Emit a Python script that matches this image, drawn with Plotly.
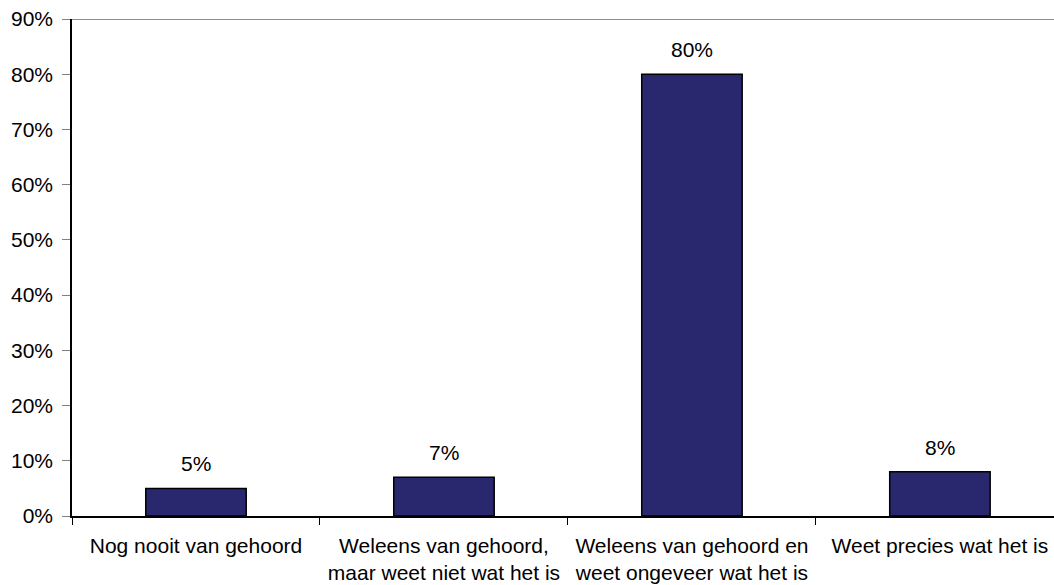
import plotly.graph_objects as go

categories = [
    "Nog nooit van gehoord",
    "Weleens van gehoord,<br>maar weet niet wat het is",
    "Weleens van gehoord en<br>weet ongeveer wat het is",
    "Weet precies wat het is",
]
values = [5, 7, 80, 8]
y_ticks = [0, 10, 20, 30, 40, 50, 60, 70, 80, 90]
y_tick_labels = [f"{v}%" for v in y_ticks]

FONT = "Liberation Sans, Arial, sans-serif"
FS = 21

fig = go.Figure(
    go.Bar(
        x=categories,
        y=values,
        marker=dict(color="#29286E", line=dict(color="#000000", width=1.5)),
        width=0.405,
        hoverinfo="skip",
    )
)

for cat, val in zip(categories, values):
    fig.add_annotation(
        x=cat, y=val, text=f"{val}%", showarrow=False,
        yanchor="bottom", yshift=11,
        font=dict(family=FONT, size=FS, color="#000000"),
    )

# top border of the plot area
fig.add_shape(
    type="line", xref="paper", yref="y", x0=0, x1=1, y0=90, y1=90,
    line=dict(color="#8C8C8C", width=2),
)

fig.update_layout(
    width=1054, height=585,
    margin=dict(l=72, r=0, t=19, b=69),
    paper_bgcolor="white", plot_bgcolor="white",
    showlegend=False,
    font=dict(family=FONT, size=FS, color="#000000"),
    xaxis=dict(
        range=[-0.5, 3.46],
        showline=True, linecolor="#000000", linewidth=1.5,
        ticks="outside", tickson="boundaries", ticklen=7, tickcolor="#000000",
        ticklabelstandoff=10,
        showgrid=False, zeroline=False,
        tickfont=dict(family=FONT, size=FS, color="#000000"),
    ),
    yaxis=dict(
        range=[0, 90],
        tickvals=y_ticks, ticktext=y_tick_labels,
        showline=True, linecolor="#000000", linewidth=1.5,
        ticks="outside", ticklen=8, tickcolor="#808080",
        ticklabelstandoff=5,
        showgrid=False, zeroline=False,
        tickfont=dict(family=FONT, size=FS, color="#000000"),
    ),
)

fig.write_html("out.html")
